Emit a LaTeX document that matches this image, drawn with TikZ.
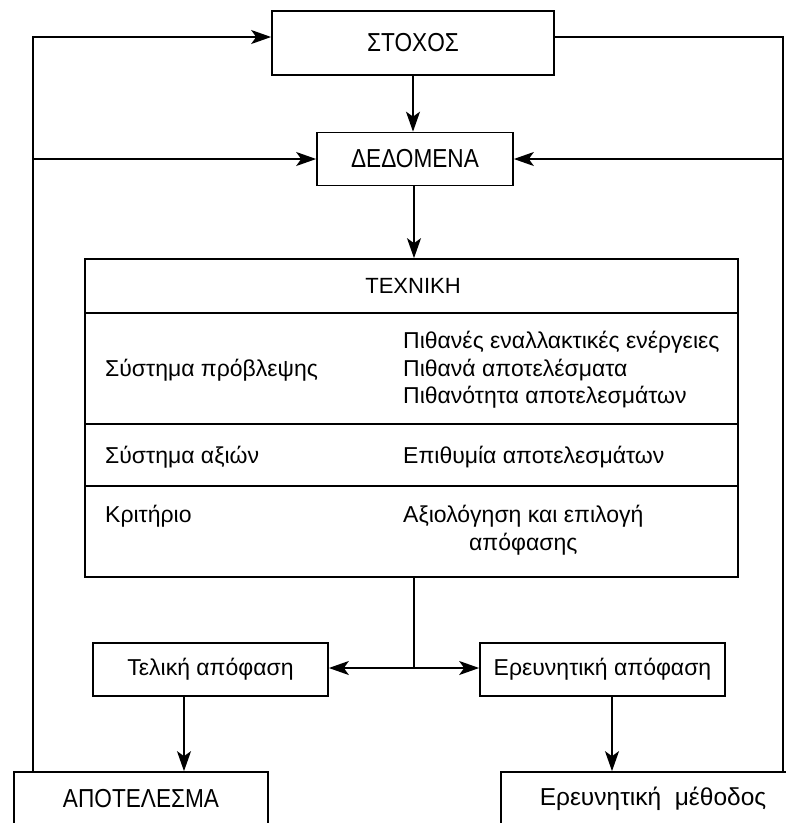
\documentclass[tikz,border=0pt]{standalone}
\usepackage{fontspec}
\setmainfont{Liberation Sans}
\newfontfamily\capsnarrow[FakeStretch=0.87]{Liberation Sans}
\usetikzlibrary{arrows.meta}
\tikzset{
  blk/.style={draw, line width=1.7pt, inner sep=0pt, align=center},
  capsfont/.style={font=\capsnarrow\fontsize{26}{30}\selectfont},
  bodyfont/.style={font=\fontsize{23}{27}\selectfont},
  txt/.style={inner sep=0pt, font=\fontsize{23}{27}\selectfont},
  conn/.style={line width=1.5pt},
  arr/.style={conn, -{Stealth[length=20pt,width=14pt,inset=5pt]}}
}
\begin{document}
\begin{tikzpicture}[x=1pt,y=-1pt]
\clip (0,0) rectangle (786,823);
\fill[white] (0,0) rectangle (786,823);

% boxes
\node[blk, capsfont, minimum width=282pt, minimum height=64pt] (stoxos) at (413,43) {ΣΤΟΧΟΣ};
\node[blk, capsfont, minimum width=196pt, minimum height=53pt] (dedomena) at (415,159) {ΔΕΔΟΜΕΝΑ};
\node[blk, minimum width=653pt, minimum height=318pt] (techn) at (411.5,418) {};
\node[blk, bodyfont, minimum width=235pt, minimum height=53pt] (telik) at (210.5,669.5) {Τελική απόφαση};
\node[blk, bodyfont, minimum width=245pt, minimum height=53pt] (erevap) at (602.5,669.5) {Ερευνητική απόφαση};
\node[blk, capsfont, minimum width=254pt, minimum height=54pt] (apotel) at (141,799) {ΑΠΟΤΕΛΕΣΜΑ};
\node[blk, font=\fontsize{24.5}{28}\selectfont, minimum width=304pt, minimum height=54pt] (erevmeth) at (653,799) {Ερευνητική\ \ μέθοδος};

% internal rows of the technique box
\coordinate (r1) at (0,313);
\coordinate (r2) at (0,424);
\coordinate (r3) at (0,486);
\draw[conn] (techn.west |- r1) -- (techn.east |- r1);
\draw[conn] (techn.west |- r2) -- (techn.east |- r2);
\draw[conn] (techn.west |- r3) -- (techn.east |- r3);

\node[txt, font=\fontsize{22}{26}\selectfont, anchor=base] (ttitle) at (413,293) {ΤΕΧΝΙΚΗ};
\node[txt, anchor=base west] (la) at (105,376) {Σύστημα πρόβλεψης};
\node[txt, anchor=base west] (lb) at (105,463) {Σύστημα αξιών};
\node[txt, anchor=base west] (lc) at (105,522) {Κριτήριο};
\node[txt, anchor=base west] (ra1) at (403,348) {Πιθανές εναλλακτικές ενέργειες};
\node[txt, anchor=base west] (ra2) at (403,376) {Πιθανά αποτελέσματα};
\node[txt, anchor=base west] (ra3) at (403,403) {Πιθανότητα αποτελεσμάτων};
\node[txt, anchor=base west] (rb) at (403,463) {Επιθυμία αποτελεσμάτων};
\node[txt, anchor=base west] (rc1) at (403,522) {Αξιολόγηση και επιλογή};
\node[txt, anchor=base] (rc2) at (rc1.base) [yshift=-28pt] {απόφασης};

% helper coordinates
\coordinate (tl) at (33,37);
\coordinate (tr) at (783,37);
\coordinate (j) at (414,668);
\coordinate (ta) at (184,0);
\coordinate (ea) at (612,0);

% top-down flow
\draw[arr] (stoxos.south) -- (stoxos.south |- dedomena.north);
\draw[arr] (dedomena.south -| j) -- (techn.north -| j);
\draw[conn] (techn.south -| j) -- (j);
\draw[arr] (j) -- (j -| telik.east);
\draw[arr] (j) -- (j -| erevap.west);
\draw[arr] (telik.south -| ta) -- (apotel.north -| ta);
\draw[arr] (erevap.south -| ea) -- (erevmeth.north -| ea);

% left feedback loop
\draw[arr] (apotel.north -| tl) -- (tl) -- (tl -| stoxos.west);
\draw[arr] (dedomena.west -| tl) -- (dedomena.west);

% right feedback loop
\draw[conn] (stoxos.east |- tr) -- (tr) -- (tr |- erevmeth.north);
\draw[arr] (dedomena.east -| tr) -- (dedomena.east);
\end{tikzpicture}
\end{document}
